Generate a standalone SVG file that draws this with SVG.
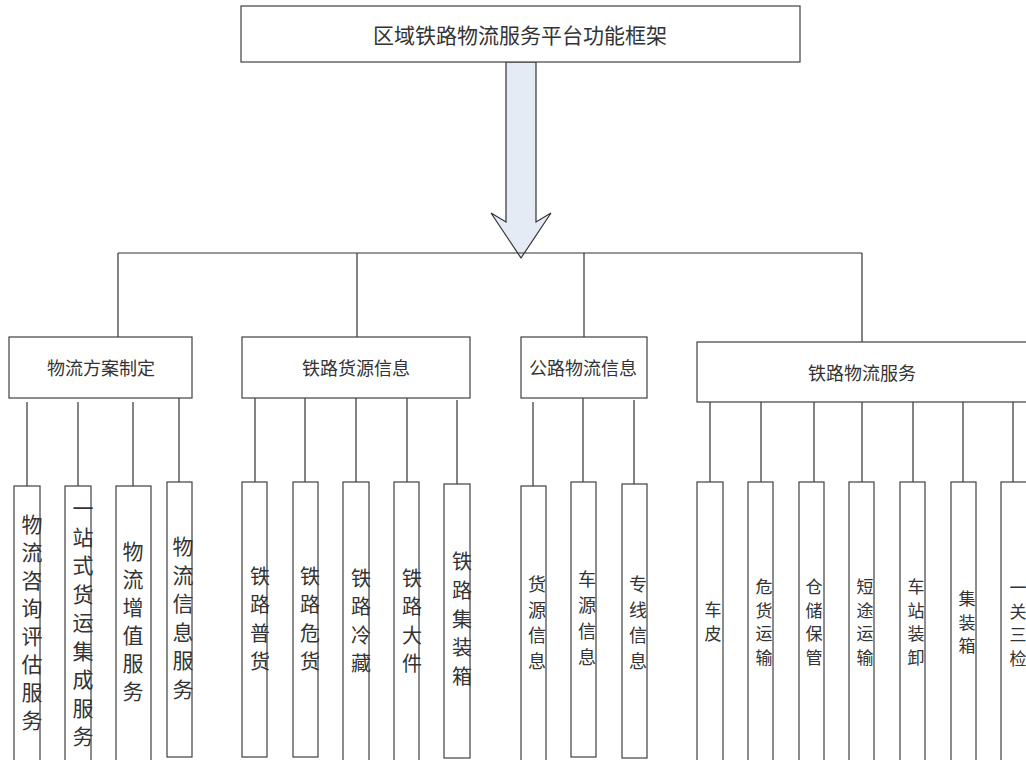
<svg xmlns="http://www.w3.org/2000/svg" width="1026" height="760" viewBox="0 0 1026 760">
<style>
.box{fill:#fff;stroke:#404040;stroke-width:1.2}
.ln{stroke:#333;stroke-width:1.2;fill:none}
text{font-family:"Noto Sans CJK SC","Noto Sans",sans-serif;fill:#333;text-anchor:middle;dominant-baseline:central}
.t0{font-size:21px}
.tg{font-size:18px}
.f1{font-size:21px}
.f2{font-size:20px}
.f3{font-size:18px}
.f4{font-size:17px}
</style>
<rect width="1026" height="760" fill="#fff"/>
<g id="connectors">
<polygon points="506,62 536,62 536,222 551,213 521,258 491,213 506,222" fill="#e4ebf5" stroke="#333" stroke-width="1.2"/>
<path class="ln" d="M118,253H862 M118,253V337 M357,253V337 M584,253V337 M862,253V342"/>
<path class="ln" d="M27,402V486 M78,402V486 M133,402V486 M179,398V482"/>
<path class="ln" d="M255,398V482 M305,398V482 M356,398V482 M407,398V482 M457,400V484"/>
<path class="ln" d="M533,402V486 M583,398V482 M634,400V484"/>
<path class="ln" d="M710,398V482 M761,398V482 M814,402V485 M862,402V485 M913,398V482 M963,398V482 M1013,398V482"/>
</g>
<g id="root"><rect class="box" x="241" y="6" width="559" height="56"/><text class="t0" x="520" y="34">区域铁路物流服务平台功能框架</text></g>
<g id="g1"><rect class="box" x="9" y="337" width="183" height="61"/><text class="tg" x="101" y="367">物流方案制定</text></g>
<g id="g2"><rect class="box" x="242" y="337" width="228" height="61"/><text class="tg" x="356" y="367">铁路货源信息</text></g>
<g id="g3"><rect class="box" x="521" y="337" width="126" height="61"/><text class="tg" x="583" y="367">公路物流信息</text></g>
<g id="g4"><rect class="box" x="697" y="342" width="340" height="60"/><text class="tg" x="862" y="372">铁路物流服务</text></g>

<g id="l1"><rect class="box" x="14" y="486" width="26" height="290"/><text class="f1"><tspan x="32" y="523">物</tspan><tspan x="32" y="551">流</tspan><tspan x="32" y="579">咨</tspan><tspan x="32" y="607">询</tspan><tspan x="32" y="635">评</tspan><tspan x="32" y="663">估</tspan><tspan x="32" y="691">服</tspan><tspan x="32" y="719">务</tspan></text></g>
<g id="l2"><rect class="box" x="65" y="486" width="26" height="290"/><text class="f1"><tspan x="83" y="507">一</tspan><tspan x="83" y="535.5">站</tspan><tspan x="83" y="564">式</tspan><tspan x="83" y="592.5">货</tspan><tspan x="83" y="621">运</tspan><tspan x="83" y="649.5">集</tspan><tspan x="83" y="678">成</tspan><tspan x="83" y="706.5">服</tspan><tspan x="83" y="735">务</tspan></text></g>
<g id="l3"><rect class="box" x="116" y="486" width="35" height="290"/><text class="f1"><tspan x="133" y="550">物</tspan><tspan x="133" y="578">流</tspan><tspan x="133" y="606">增</tspan><tspan x="133" y="634">值</tspan><tspan x="133" y="662">服</tspan><tspan x="133" y="690">务</tspan></text></g>
<g id="l4"><rect class="box" x="167" y="482" width="25" height="275"/><text class="f1"><tspan x="183" y="545">物</tspan><tspan x="183" y="573.6">流</tspan><tspan x="183" y="602.2">信</tspan><tspan x="183" y="630.8">息</tspan><tspan x="183" y="659.4">服</tspan><tspan x="183" y="688">务</tspan></text></g>

<g id="l5"><rect class="box" x="242" y="482" width="25" height="275"/><text class="f2"><tspan x="260" y="575">铁</tspan><tspan x="260" y="603.3">路</tspan><tspan x="260" y="631.6">普</tspan><tspan x="260" y="660">货</tspan></text></g>
<g id="l6"><rect class="box" x="293" y="482" width="25" height="275"/><text class="f2"><tspan x="310" y="575">铁</tspan><tspan x="310" y="603.3">路</tspan><tspan x="310" y="631.6">危</tspan><tspan x="310" y="660">货</tspan></text></g>
<g id="l7"><rect class="box" x="343" y="482" width="26" height="290"/><text class="f2"><tspan x="361" y="577">铁</tspan><tspan x="361" y="605.3">路</tspan><tspan x="361" y="633.6">冷</tspan><tspan x="361" y="662">藏</tspan></text></g>
<g id="l8"><rect class="box" x="394" y="482" width="25" height="290"/><text class="f2"><tspan x="412" y="577">铁</tspan><tspan x="412" y="605.3">路</tspan><tspan x="412" y="633.6">大</tspan><tspan x="412" y="662">件</tspan></text></g>
<g id="l9"><rect class="box" x="444" y="484" width="26" height="274"/><text class="f2"><tspan x="462" y="560">铁</tspan><tspan x="462" y="588.7">路</tspan><tspan x="462" y="617.5">集</tspan><tspan x="462" y="646.2">装</tspan><tspan x="462" y="675">箱</tspan></text></g>

<g id="l10"><rect class="box" x="521" y="486" width="25" height="290"/><text class="f3"><tspan x="537" y="583">货</tspan><tspan x="537" y="608.7">源</tspan><tspan x="537" y="634.4">信</tspan><tspan x="537" y="660">息</tspan></text></g>
<g id="l11"><rect class="box" x="571" y="482" width="25" height="275"/><text class="f3"><tspan x="587" y="578">车</tspan><tspan x="587" y="604">源</tspan><tspan x="587" y="630">信</tspan><tspan x="587" y="656">息</tspan></text></g>
<g id="l12"><rect class="box" x="622" y="484" width="25" height="274"/><text class="f3"><tspan x="638" y="583">专</tspan><tspan x="638" y="608.7">线</tspan><tspan x="638" y="634.4">信</tspan><tspan x="638" y="660">息</tspan></text></g>

<g id="l13"><rect class="box" x="697" y="482" width="26" height="290"/><text class="f4"><tspan x="713" y="608">车</tspan><tspan x="713" y="632">皮</tspan></text></g>
<g id="l14"><rect class="box" x="748" y="482" width="25" height="290"/><text class="f4"><tspan x="764" y="585">危</tspan><tspan x="764" y="608.5">货</tspan><tspan x="764" y="632">运</tspan><tspan x="764" y="655.5">输</tspan></text></g>
<g id="l15"><rect class="box" x="799" y="482" width="25" height="290"/><text class="f4"><tspan x="814" y="585">仓</tspan><tspan x="814" y="608.5">储</tspan><tspan x="814" y="632">保</tspan><tspan x="814" y="655.5">管</tspan></text></g>
<g id="l16"><rect class="box" x="849" y="482" width="25" height="290"/><text class="f4"><tspan x="865" y="585">短</tspan><tspan x="865" y="608.5">途</tspan><tspan x="865" y="632">运</tspan><tspan x="865" y="655.5">输</tspan></text></g>
<g id="l17"><rect class="box" x="900" y="482" width="25" height="290"/><text class="f4"><tspan x="916" y="585">车</tspan><tspan x="916" y="608.5">站</tspan><tspan x="916" y="632">装</tspan><tspan x="916" y="655.5">卸</tspan></text></g>
<g id="l18"><rect class="box" x="951" y="482" width="25" height="290"/><text class="f4"><tspan x="967" y="597">集</tspan><tspan x="967" y="620.5">装</tspan><tspan x="967" y="644">箱</tspan></text></g>
<g id="l19"><rect class="box" x="1001" y="482" width="40" height="290"/><text class="f4"><tspan x="1018" y="586">一</tspan><tspan x="1018" y="609.5">关</tspan><tspan x="1018" y="633">三</tspan><tspan x="1018" y="656.5">检</tspan></text></g>
</svg>
